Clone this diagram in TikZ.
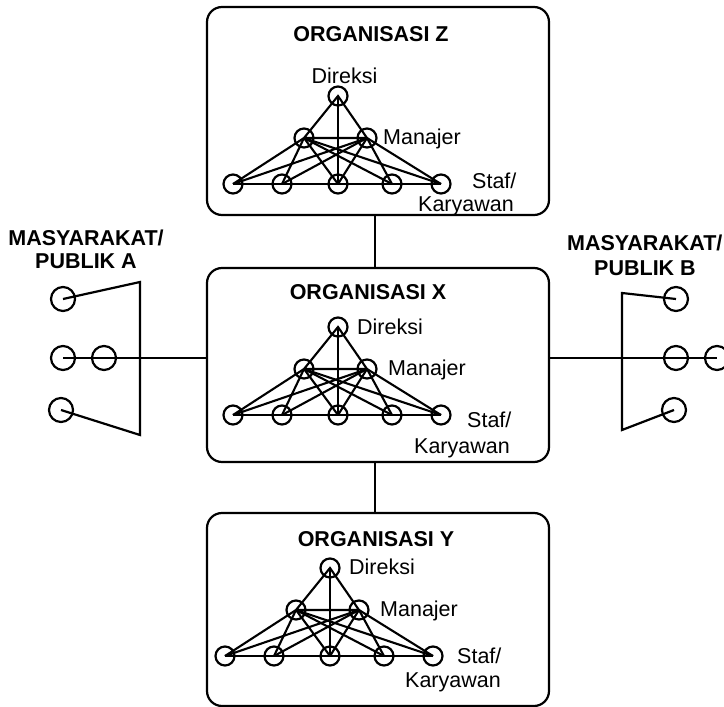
\documentclass[tikz,border=0pt]{standalone}
\usepackage{fontspec}
\setmainfont{Liberation Sans}
\newcommand\orgnetwork[1]{%
  \node[pers] (#1d) at (338,0) {};
  \node[pers] (#1m1) at (304,42) {};
  \node[pers] (#1m2) at (367,42) {};
  \node[pers] (#1s1) at (233,88) {};
  \node[pers] (#1s2) at (282,88) {};
  \node[pers] (#1s3) at (338,88) {};
  \node[pers] (#1s4) at (392,88) {};
  \node[pers] (#1s5) at (441,88) {};
  \draw[link] (#1m1.center) -- (#1d.center) -- (#1m2.center) -- (#1m1.center);
  \draw[link] (#1d.center) -- (#1s3.center);
  \draw[link] (#1s1.center) -- (#1s5.center);
  \foreach \i in {1,...,5}{
    \draw[link] (#1m1.center) -- (#1s\i.center);
    \draw[link] (#1m2.center) -- (#1s\i.center);
  }%
}
\begin{document}
\begin{tikzpicture}[x=1pt,y=-1pt,
  box/.style={draw, line width=2.2pt, rounded corners=15pt, inner sep=0pt, minimum width=342pt},
  pers/.style={draw, circle, line width=2.2pt, minimum size=19pt, inner sep=0pt},
  pub/.style={draw, circle, line width=2.2pt, minimum size=24pt, inner sep=0pt},
  link/.style={line width=2.1pt},
  conn/.style={line width=1.6pt},
  bracket/.style={line width=2.2pt},
  lbl/.style={font=\fontsize{21.5}{24}\selectfont, inner sep=0pt, anchor=base west},
  ttl/.style={font=\fontsize{21.5}{24}\selectfont\bfseries, inner sep=0pt, anchor=base}]
\useasboundingbox (0,0) rectangle (724,707);

% boxes
\node[box, minimum height=208pt] (Z) at (378,111) {};
\node[box, minimum height=194pt] (X) at (378,365) {};
\node[box, minimum height=193pt] (Y) at (378,609.5) {};

% titles
\node[ttl] (tz) at (371,41) {ORGANISASI Z};
\node[ttl] (tx) at (368,299) {ORGANISASI X};
\node[ttl] (ty) at (376,546) {ORGANISASI Y};

% networks
\begin{scope}[shift={(0,96)}]\orgnetwork{z}\end{scope}
\begin{scope}[shift={(0,327)}]\orgnetwork{x}\end{scope}
\begin{scope}[shift={(-8,568)}]\orgnetwork{y}\end{scope}

% labels Z
\node[ttl, font=\fontsize{21.5}{24}\selectfont] (zdl) at (344.5,83) {Direksi};
\node[lbl] (zml) at (383,144) {Manajer};
\node[lbl] (zsl) at (472,188) {Staf/};
\node[lbl] (zkl) at (418,211) {Karyawan};
% labels X
\node[lbl] (xdl) at (357,334) {Direksi};
\node[lbl] (xml) at (388,375) {Manajer};
\node[lbl] (xsl) at (467,427) {Staf/};
\node[lbl] (xkl) at (414,453) {Karyawan};
% labels Y
\node[lbl] (ydl) at (349,574) {Direksi};
\node[lbl] (yml) at (380,616) {Manajer};
\node[lbl] (ysl) at (457,663) {Staf/};
\node[lbl] (ykl) at (405,687) {Karyawan};

% connectors between organisations
\coordinate (vline) at (375,0);
\draw[conn] (Z.south -| vline) -- (X.north -| vline);
\draw[conn] (X.south -| vline) -- (Y.north -| vline);

% public A
\node[ttl] (pa1) at (86,245) {MASYARAKAT/};
\node[ttl] (pa2) at (86,268) {PUBLIK A};
\node[pub] (a1) at (63,299) {};
\node[pub] (a2) at (63,358) {};
\node[pub] (a3) at (104,358) {};
\node[pub] (a4) at (61,410) {};
\coordinate (at) at (140,282);
\coordinate (ab) at (140,435);
\draw[bracket] (a1.center) -- (at) -- (ab) -- (a4.center);
\draw[conn] (a2.center) -- (a2.center -| X.west);

% public B
\node[ttl, anchor=base west] (pb1) at (567,250) {MASYARAKAT/};
\node[ttl] (pb2) at (645,275) {PUBLIK B};
\node[pub] (b1) at (676,299) {};
\node[pub] (b2) at (676,358) {};
\node[pub] (b3) at (717,358) {};
\node[pub] (b4) at (674,410) {};
\coordinate (bt) at (622,293);
\coordinate (bb) at (622,430);
\draw[bracket] (b1.center) -- (bt) -- (bb) -- (b4.center);
\draw[conn] (b3.center -| X.east) -- (b3.center);
\end{tikzpicture}
\end{document}
